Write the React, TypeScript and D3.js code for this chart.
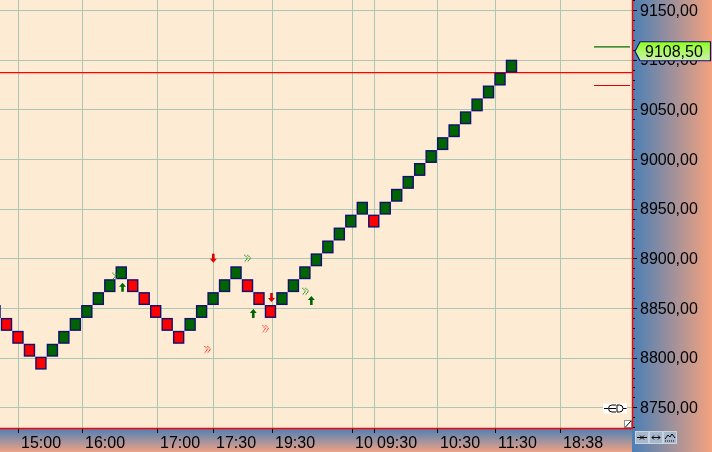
import React from "react";
import * as d3 from "d3";

const W = 712;
const H = 452;
const PLOT_R = 632;
const PLOT_B = 428;

// brick lows (price) and direction
const brickLows = [
  8840, 8827, 8814, 8801, 8788,
  8801, 8814, 8827, 8840, 8853, 8866, 8879,
  8866, 8853, 8840, 8827, 8814,
  8827, 8840, 8853, 8866, 8879,
  8866, 8853, 8840,
  8853, 8866, 8879, 8892, 8905, 8918, 8931, 8944,
  8931,
  8944, 8957, 8970, 8983, 8996, 9009, 9022, 9035, 9048, 9061, 9074, 9087,
];
const brickDirs = [
  "d", "d", "d", "d", "d",
  "u", "u", "u", "u", "u", "u", "u",
  "d", "d", "d", "d", "d",
  "u", "u", "u", "u", "u",
  "d", "d", "d",
  "u", "u", "u", "u", "u", "u", "u", "u",
  "d",
  "u", "u", "u", "u", "u", "u", "u", "u", "u", "u", "u", "u",
];
const BRICK_SIZE = 13;

const xTickIdx = [2.0, 7.58, 14.11, 18.99, 24.13, 31.1, 33.02, 38.51, 43.56, 49.23];
const xTickLabels = ["15:00", "16:00", "17:00", "17:30", "19:30", "10", "09:30", "10:30", "11:30", "18:38"];

const yTicks = [8750, 8800, 8850, 8900, 8950, 9000, 9050, 9100, 9150];

const upArrowIdx = [11.11, 22.5, 27.56];
const upArrowPrice = [8871, 8844.6, 8857.6];
const downArrowIdx = [19.02, 24.09];
const downArrowPrice = [8900, 8860.7];
const greenChevIdx = [10.5, 22.0, 27.05];
const greenChevPrice = [8882, 8900, 8866.8];
const redChevIdx = [18.51, 23.57];
const redChevPrice = [8808.2, 8829.1];

const lastPrice = 9108.5;
const redLinePrice = 9087;
const nextUpPrice = 9113;
const reversalPrice = 9074;

const x = d3.scaleLinear().domain([1, 45]).range([6.5, 511.5]);
const y = d3.scaleLinear().domain([8729.2, 9160.1]).range([PLOT_B, 0]);

const fmt = (v: number) => d3.format(".2f")(v).replace(".", ",");

const BLUE = "#4a7fb6";
const SALMON = "#f5a27e";
const NAVY = "#10106e";
const FONT = "'Liberation Sans', Arial, sans-serif";

function UpArrow({ cx, cy, color }: { cx: number; cy: number; color: string }) {
  const p = `M${cx},${cy - 4.5} L${cx + 3.5},${cy - 0.5} L${cx + 1.3},${cy - 0.5} L${cx + 1.3},${cy + 4.5} L${cx - 1.3},${cy + 4.5} L${cx - 1.3},${cy - 0.5} L${cx - 3.5},${cy - 0.5} Z`;
  return <path d={p} fill={color} />;
}
function DownArrow({ cx, cy, color }: { cx: number; cy: number; color: string }) {
  const p = `M${cx},${cy + 4.5} L${cx + 3.5},${cy + 0.5} L${cx + 1.3},${cy + 0.5} L${cx + 1.3},${cy - 4.5} L${cx - 1.3},${cy - 4.5} L${cx - 1.3},${cy + 0.5} L${cx - 3.5},${cy + 0.5} Z`;
  return <path d={p} fill={color} />;
}
function Chevron({ cx, cy, color }: { cx: number; cy: number; color: string }) {
  const a = `M${cx - 3},${cy - 3.5} L${cx},${cy} L${cx - 3},${cy + 3.5}`;
  const b = `M${cx},${cy - 3.5} L${cx + 3},${cy} L${cx},${cy + 3.5}`;
  return (
    <g fill="none" stroke={color} strokeWidth={1.1} strokeDasharray="1,0.8">
      <path d={a} />
      <path d={b} />
    </g>
  );
}

export default function App() {
  const minorTicks = d3.range(8730, 9161, 10);
  const labelY = y(lastPrice);
  return (
    <svg width={W} height={H} style={{ position: "fixed", left: 0, top: 0 }} fontFamily={FONT}>
      <defs>
        <linearGradient id="rgrad" x1="0" x2="1" y1="0" y2="0">
          <stop offset="0" stopColor={BLUE} />
          <stop offset="1" stopColor={SALMON} />
        </linearGradient>
        <linearGradient id="bgrad" x1="0" x2="0" y1="0" y2="1">
          <stop offset="0" stopColor={BLUE} />
          <stop offset="1" stopColor="#eea286" />
        </linearGradient>
        <linearGradient id="lgrad" x1="0" x2="0" y1="0" y2="1">
          <stop offset="0" stopColor="#8cff1e" />
          <stop offset="1" stopColor="#cdf0b0" />
        </linearGradient>
        <clipPath id="plotclip">
          <rect x={0} y={0} width={PLOT_R} height={PLOT_B} />
        </clipPath>
      </defs>

      <rect x={0} y={0} width={PLOT_R} height={PLOT_B} fill="#fdebd3" />
      <rect x={PLOT_R} y={0} width={W - PLOT_R} height={H} fill="url(#rgrad)" />
      <rect x={0} y={PLOT_B} width={PLOT_R} height={H - PLOT_B} fill="url(#bgrad)" />

      <g clipPath="url(#plotclip)">
        {yTicks.map((t) => (
          <line key={"gy" + t} x1={0} x2={PLOT_R} y1={Math.round(y(t)) + 0.5} y2={Math.round(y(t)) + 0.5} stroke="#a9c7b4" strokeWidth={1} />
        ))}
        {xTickIdx.map((t, i) => (
          <line key={"gx" + i} x1={Math.round(x(t)) + 0.5} x2={Math.round(x(t)) + 0.5} y1={0} y2={PLOT_B} stroke="#a9c7b4" strokeWidth={1} />
        ))}

        <line x1={0} x2={PLOT_R} y1={y(redLinePrice)} y2={y(redLinePrice)} stroke="#ff0000" strokeWidth={1.2} />
        <line x1={594} x2={630} y1={y(nextUpPrice)} y2={y(nextUpPrice)} stroke="#007000" strokeWidth={1.2} />
        <line x1={594} x2={630} y1={y(reversalPrice)} y2={y(reversalPrice)} stroke="#e00000" strokeWidth={1.2} />

        {brickLows.map((low, i) => {
          const top = y(low + BRICK_SIZE);
          const bot = y(low);
          const cx = x(i);
          return (
            <rect
              key={"b" + i}
              x={cx - 5}
              y={top + 0.7}
              width={10}
              height={bot - top - 1.4}
              fill={brickDirs[i] === "u" ? "#006400" : "#ff0000"}
              stroke={NAVY}
              strokeWidth={1.4}
            />
          );
        })}

        {upArrowIdx.map((t, i) => (
          <UpArrow key={"ua" + i} cx={x(t)} cy={y(upArrowPrice[i])} color="#006400" />
        ))}
        {downArrowIdx.map((t, i) => (
          <DownArrow key={"da" + i} cx={x(t)} cy={y(downArrowPrice[i])} color="#e00000" />
        ))}
        {greenChevIdx.map((t, i) => (
          <Chevron key={"gc" + i} cx={x(t)} cy={y(greenChevPrice[i])} color="#1a8a1a" />
        ))}
        {redChevIdx.map((t, i) => (
          <Chevron key={"rc" + i} cx={x(t)} cy={y(redChevPrice[i])} color="#ff2020" />
        ))}

        {/* plug icon */}
        <g>
          <rect x={603} y={403.5} width={24} height={10} fill="#ffffff" />
          <line x1={604} x2={608} y1={408.5} y2={408.5} stroke="#000" strokeWidth={1} />
          <path d="M612,405 A3.5,3.5 0 0 0 612,412" fill="none" stroke="#000" strokeWidth={1} />
          <line x1={612} x2={616} y1={405} y2={405} stroke="#000" />
          <line x1={612} x2={616} y1={412} y2={412} stroke="#000" />
          <line x1={609} x2={616} y1={408.5} y2={408.5} stroke="#000" />
          <path d="M617,405 L619.5,405 A3.5,3.5 0 0 1 619.5,412 L617,412 Z" fill="none" stroke="#000" strokeWidth={1} />
          <line x1={623} x2={626.5} y1={408.5} y2={408.5} stroke="#000" />
        </g>
        {/* resize corner */}
        <rect x={624.5} y={420.5} width={7} height={7} fill="#ffffff" stroke="#909090" strokeWidth={1} />
        <line x1={625.5} x2={631} y1={427} y2={421} stroke="#000" strokeWidth={1} />
      </g>

      {/* borders */}
      <line x1={0} x2={PLOT_R + 1} y1={PLOT_B + 0.5} y2={PLOT_B + 0.5} stroke="#ff0000" strokeWidth={1.5} />
      <line x1={PLOT_R + 0.5} x2={PLOT_R + 0.5} y1={0} y2={PLOT_B + 1} stroke="#ff0000" strokeWidth={1.5} />

      {/* right axis */}
      {minorTicks.map((t) => (
        <line key={"mt" + t} x1={PLOT_R + 1} x2={t % 50 === 0 ? PLOT_R + 5 : PLOT_R + 3} y1={Math.round(y(t)) + 0.5} y2={Math.round(y(t)) + 0.5} stroke="#000" strokeWidth={1} />
      ))}
      {yTicks.map((t) => (
        <text key={"yl" + t} x={640} y={y(t)} dy="0.36em" fontSize={16} fill="#000">
          {fmt(t)}
        </text>
      ))}

      {/* last price label */}
      <path
        d={`M635,${labelY} L640,${labelY - 9.5} L710.5,${labelY - 9.5} L710.5,${labelY + 9.5} L640,${labelY + 9.5} Z`}
        fill="url(#lgrad)"
        stroke={NAVY}
        strokeWidth={1.2}
      />
      <text x={645} y={labelY} dy="0.36em" fontSize={16} fill="#000">
        {fmt(lastPrice)}
      </text>

      {/* bottom axis */}
      {xTickIdx.map((t, i) => (
        <g key={"xt" + i}>
          <line x1={Math.round(x(t)) + 0.5} x2={Math.round(x(t)) + 0.5} y1={PLOT_B + 1} y2={PLOT_B + 5} stroke="#000" strokeWidth={1} />
          <text x={Math.round(x(t)) + 3} y={448} fontSize={16} fill="#000">
            {xTickLabels[i]}
          </text>
        </g>
      ))}

      {/* buttons */}
      {[0, 1, 2].map((k) => (
        <rect key={"btn" + k} x={635.5 + k * 14} y={431.5} width={13} height={12} fill="#a8b8cc" stroke="#c8d4e0" strokeWidth={1} />
      ))}
      <g stroke="#000" strokeWidth={1} fill="none">
        <line x1={637} x2={647} y1={437.5} y2={437.5} />
        <path d="M640,435.5 L642,437.5 L640,439.5" />
        <path d="M644,435.5 L642,437.5 L644,439.5" />
        <line x1={652} x2={660} y1={437.5} y2={437.5} />
        <path d="M654,435.5 L652,437.5 L654,439.5" />
        <path d="M658,435.5 L660,437.5 L658,439.5" />
        <path d="M665,439 L668,435 L670,437 L672,434 L675,438" />
        <line x1={665} x2={675} y1={441} y2={441} strokeDasharray="1,1" />
      </g>
    </svg>
  );
}
